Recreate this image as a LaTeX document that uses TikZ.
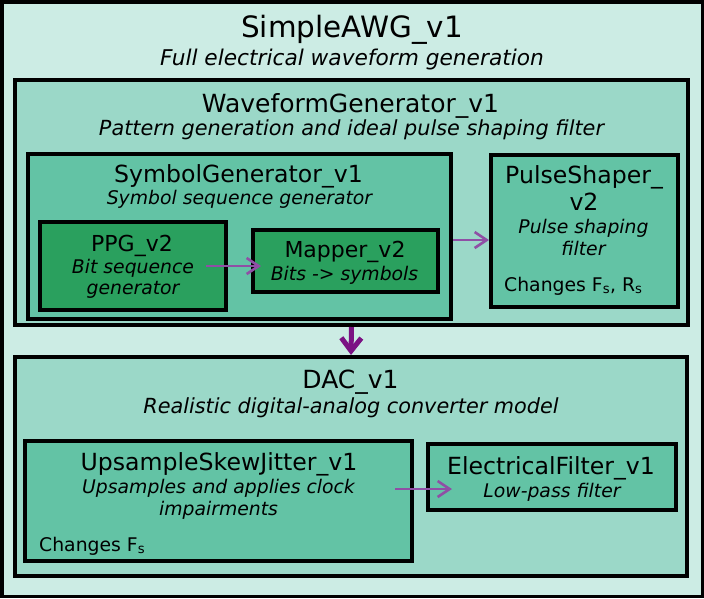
\documentclass[tikz,border=0pt]{standalone}
\usepackage{fontspec}
\setmainfont{DejaVu Sans}
\usetikzlibrary{arrows.meta}
\definecolor{awgfill}{HTML}{CCECE4}
\definecolor{midfill}{HTML}{9BD8C8}
\definecolor{blkfill}{HTML}{63C3A5}
\definecolor{subfill}{HTML}{2AA05E}
\definecolor{flowcol}{HTML}{8F4FA5}
\definecolor{mainflow}{HTML}{7B1283}
\newcommand{\topname}{\fontsize{29.4}{34}\selectfont}
\newcommand{\topnote}{\fontsize{21.7}{26}\selectfont\itshape}
\newcommand{\midname}{\fontsize{25}{30}\selectfont}
\newcommand{\midnote}{\fontsize{20.8}{25}\selectfont\itshape}
\newcommand{\blkname}{\fontsize{23.6}{28}\selectfont}
\newcommand{\blknote}{\fontsize{18.8}{22}\selectfont\itshape}
\newcommand{\subname}{\fontsize{22}{26}\selectfont}
\newcommand{\chgnote}{\fontsize{18.8}{22}\selectfont}

\begin{document}
\begin{tikzpicture}[x=1pt,y=-1pt,
  box/.style={draw=black, line width=4pt, rectangle, inner sep=0pt},
  lbl/.style={anchor=base, inner sep=0pt},
  flow/.style={draw=flowcol, line width=2.6pt, -{Straight Barb[length=12pt,width=16pt]}},
  mainarrow/.style={draw=mainflow, line width=5pt, -{Straight Barb[length=13pt,width=20pt]}}]
\useasboundingbox (0,0) rectangle (704,598);
% nested blocks
\node[box, line width=3.5pt, fill=awgfill, minimum width=700.5pt, minimum height=594.5pt] (awg) at (352,299) {};
\node[box, fill=midfill, minimum width=673pt, minimum height=245pt] (wg) at (351.5,202.5) {};
\node[box, fill=blkfill, minimum width=423pt, minimum height=165pt] (sg) at (239.5,236.5) {};
\node[box, fill=subfill, minimum width=186pt, minimum height=88pt] (ppg) at (133,266) {};
\node[box, fill=subfill, minimum width=185pt, minimum height=62pt] (map) at (345.5,261) {};
\node[box, fill=blkfill, minimum width=187pt, minimum height=152pt] (ps) at (584.5,231) {};
\node[box, fill=midfill, minimum width=672pt, minimum height=219pt] (dac) at (351,466.5) {};
\node[box, fill=blkfill, minimum width=387pt, minimum height=120pt] (usj) at (218.5,501) {};
\node[box, fill=blkfill, minimum width=248pt, minimum height=66pt] (ef) at (552,477) {};

% labels
\node[lbl] (awgname) at (352,37) {\topname SimpleAWG\_v1};
\node[lbl] (awgnote) at (352,65) {\topnote Full electrical waveform generation};
\node[lbl] (wgname) at (350.5,112) {\midname WaveformGenerator\_v1};
\node[lbl] (wgnote) at (351.5,135) {\midnote Pattern generation and ideal pulse shaping filter};
\node[lbl] (sgname) at (238.5,182) {\blkname SymbolGenerator\_v1};
\node[lbl] (sgnote) at (239.5,204) {\blknote Symbol sequence generator};
\node[lbl] (ppgname) at (132,251) {\subname PPG\_v2};
\node[lbl] (ppgnote) at (133,273) {\blknote Bit sequence};
\node[lbl] (ppgnotb) at (133,294) {\blknote generator};
\node[lbl] (mapname) at (345,257) {\subname Mapper\_v2};
\node[lbl] (mapnote) at (344.5,280) {\blknote Bits -> symbols};
\node[lbl] (psname) at (584,183) {\blkname PulseShaper\_};
\node[lbl] (psnamb) at (584,210) {\blkname v2};
\node[lbl] (psnote) at (583.5,233) {\blknote Pulse shaping};
\node[lbl] (psnotb) at (583.5,255) {\blknote filter};
\node[lbl, anchor=base west] (pschg) at (504,291) {\chgnote Changes F\textsubscript{s}, R\textsubscript{s}};
\node[lbl] (dacname) at (350.5,388) {\midname DAC\_v1};
\node[lbl] (dacnote) at (351,413) {\midnote Realistic digital-analog converter model};
\node[lbl] (usjname) at (219,470) {\blkname UpsampleSkewJitter\_v1};
\node[lbl] (usjnote) at (218.5,493) {\blknote Upsamples and applies clock};
\node[lbl] (usjnotb) at (218.5,515) {\blknote impairments};
\node[lbl, anchor=base west] (usjchg) at (39,551) {\chgnote Changes F\textsubscript{s}};
\node[lbl] (efname) at (551,474) {\blkname ElectricalFilter\_v1};
\node[lbl] (efnote) at (552,497) {\blknote Low-pass filter};

% signal flow
\draw[flow] ([xshift=-22pt]ppg.east) -- ([xshift=10pt]ppg.east -| map.west);
\draw[flow] ([yshift=-3.5pt]sg.east) -- ([yshift=-3.5pt]sg.east -| ps.west);
\draw[mainarrow] (wg.south) -- (dac.north);
\draw[flow] ([xshift=-19pt,yshift=12pt]usj.east) -- ([xshift=26pt,yshift=-12pt]ef.west);
\end{tikzpicture}
\end{document}
